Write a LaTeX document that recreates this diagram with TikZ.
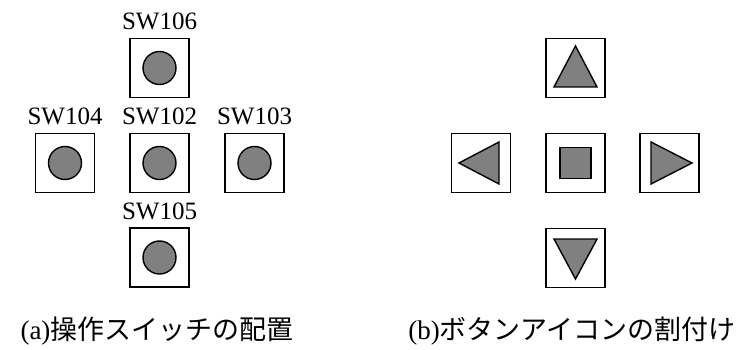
\documentclass[tikz,border=0pt]{standalone}
\usepackage{fontspec}
\setmainfont{Liberation Serif}
\newfontfamily\jpfont{Noto Sans CJK JP}
\usetikzlibrary{calc}
\begin{document}
\begin{tikzpicture}[x=1pt, y=-1pt,
		swbox/.style={draw, line width=1.8pt, minimum size=59pt, inner sep=0pt},
		knob/.style={circle, draw, fill=black!50, line width=1.4pt, minimum size=33pt, inner sep=0pt},
		icon/.style={draw, fill=black!50, line width=1.4pt, line join=miter},
		swlabel/.style={anchor=base, font=\fontsize{25}{30}\selectfont, inner sep=0pt},
		caption/.style={font=\fontsize{27}{32}\selectfont, inner sep=0pt}]
	\useasboundingbox (0,0) rectangle (752,350);
	
	% (a) switch layout
	\foreach \sw/\x/\y in {106/159.5/68, 104/65/163, 102/159.5/163, 103/254.5/163, 105/159.5/257.5}{
		\node[swbox] (sw\sw) at (\x,\y) {};
		\node[knob] (knob\sw) at (sw\sw) {};
		\node[swlabel] (lab\sw) at ($(sw\sw.north)+(0,-8)$) {SW\sw};
	}
	
	% (b) button icons
	\node[swbox] (btnup) at (575.5,68) {};
	\node[swbox] (btnleft) at (481,163) {};
	\node[swbox] (btnstop) at (575.5,163) {};
	\node[swbox] (btnright) at (669.5,163) {};
	\node[swbox] (btndown) at (575.5,258) {};
	
	\draw[icon] ($(btnup)+(0,-22)$) -- ($(btnup)+(21.5,19)$) -- ($(btnup)+(-21.5,19)$) -- cycle;
	\draw[icon] ($(btnleft)+(-22,0)$) -- ($(btnleft)+(18,-21)$) -- ($(btnleft)+(18,21)$) -- cycle;
	\draw[icon] ($(btnright)+(22.5,0)$) -- ($(btnright)+(-18.5,-21)$) -- ($(btnright)+(-18.5,21)$) -- cycle;
	\draw[icon] ($(btndown)+(0,21)$) -- ($(btndown)+(21.5,-19)$) -- ($(btndown)+(-21.5,-19)$) -- cycle;
	\node[icon, minimum size=31pt, inner sep=0pt] (stopicon) at (btnstop) {};
	
	% captions
	\node[caption] (capa) at (157,331) {(a)\jpfont 操作スイッチの配置};
	\node[caption] (capb) at (572,331) {(b)\jpfont ボタンアイコンの割付け};
\end{tikzpicture}
\end{document}
